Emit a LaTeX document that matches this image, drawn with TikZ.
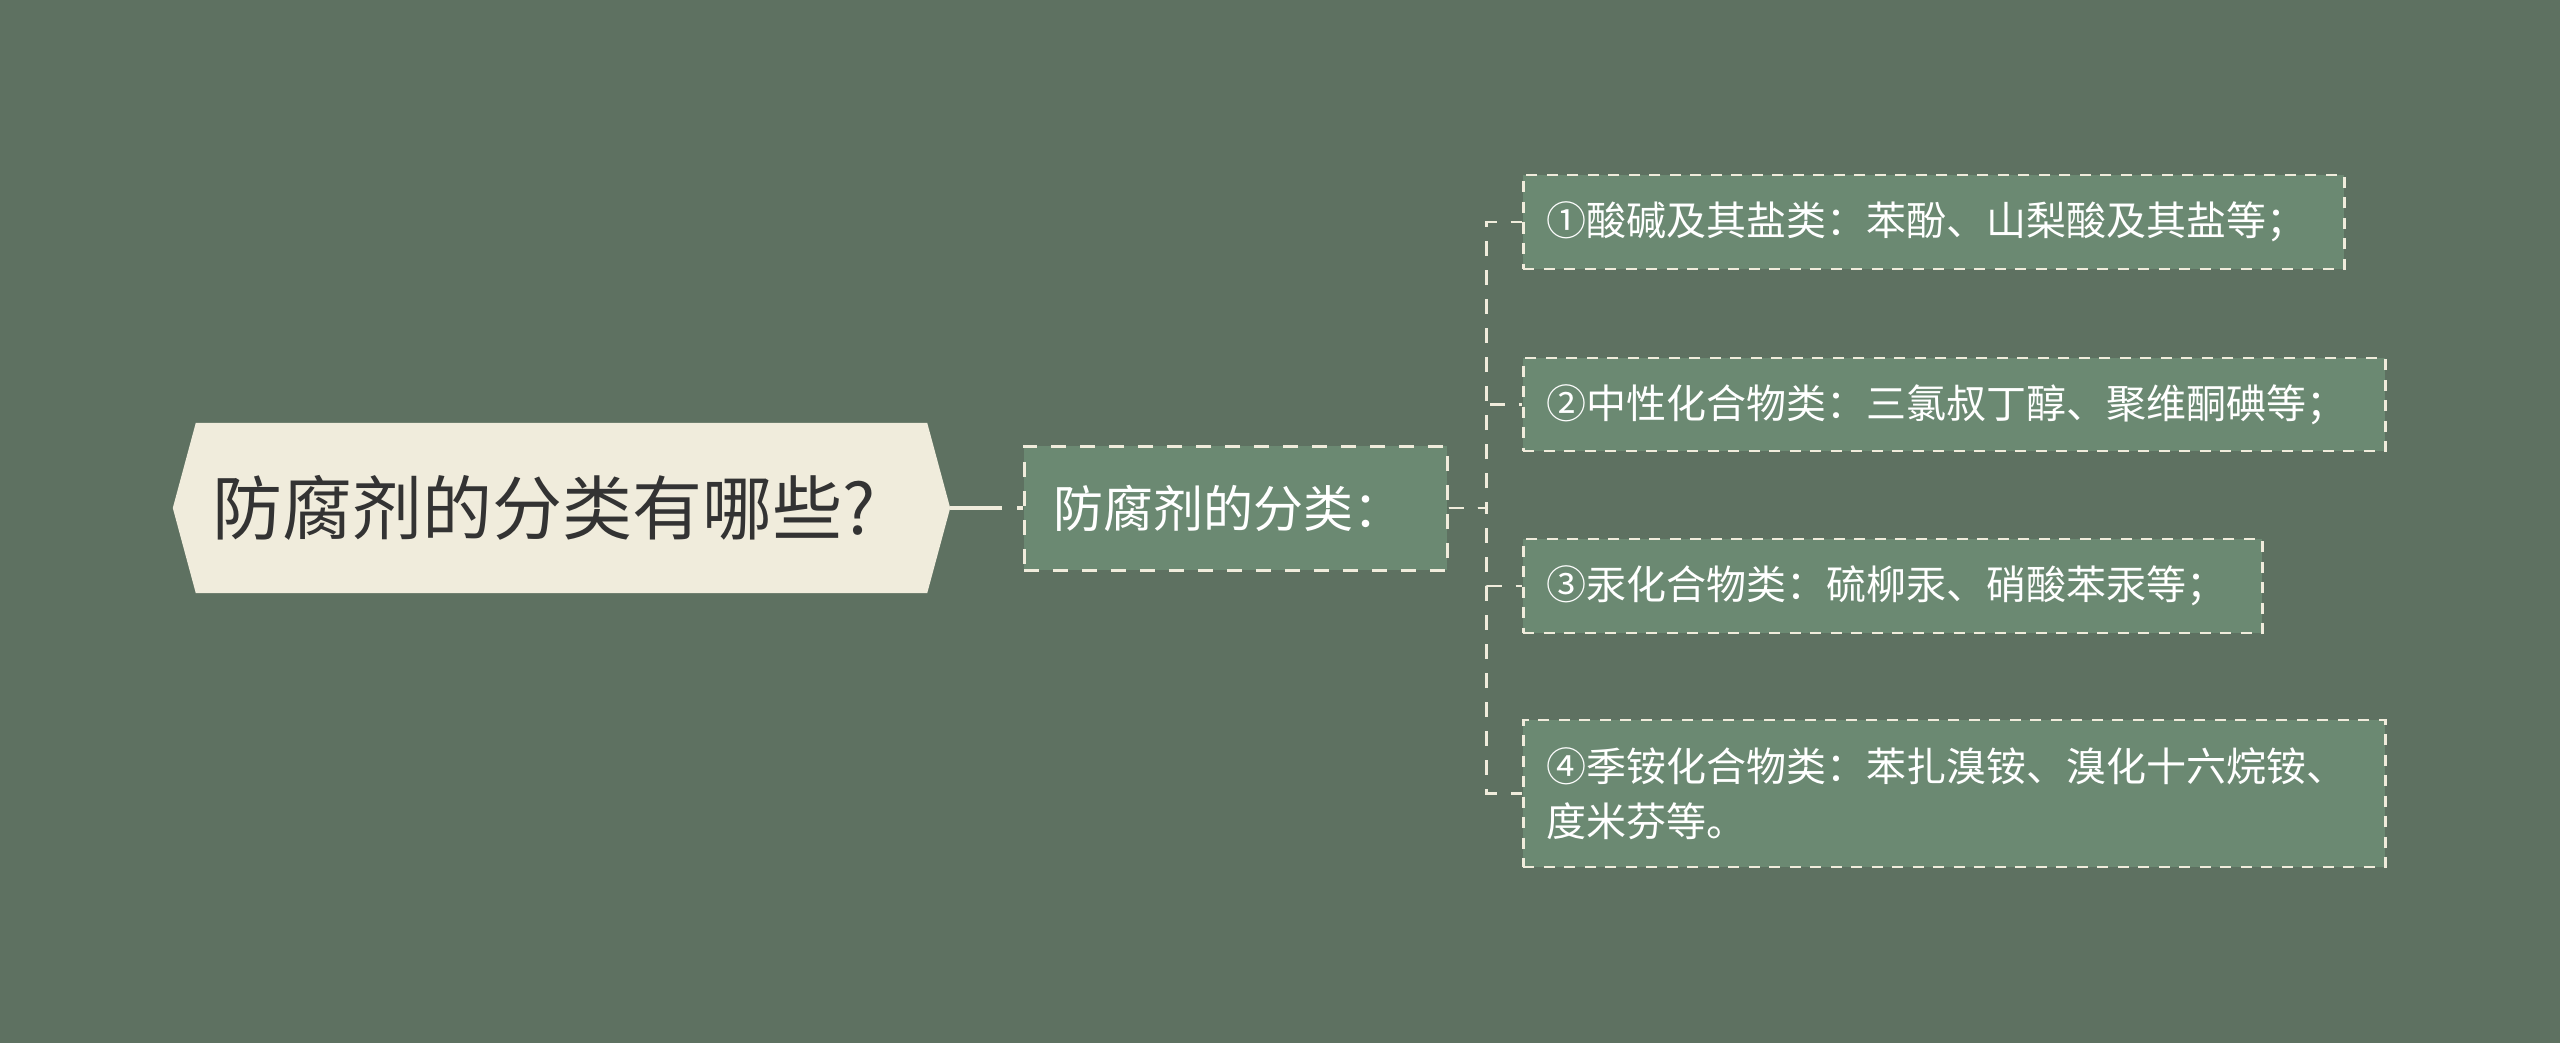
\documentclass[tikz,border=0pt]{standalone}
\usepackage{fontspec}
\setmainfont{Noto Sans CJK SC}
\usetikzlibrary{calc,backgrounds}
\definecolor{bgc}{RGB}{94,113,97}
\definecolor{nodefill}{RGB}{107,137,114}
\definecolor{creamc}{RGB}{240,236,220}
\definecolor{roottext}{RGB}{51,51,51}
\tikzset{
  rootbox/.style={minimum width=777, minimum height=170, inner xsep=39, inner ysep=0,
    text width=699, align=left, text=roottext, font=\fontsize{70}{80}\selectfont},
  midbox/.style={draw=creamc, fill=nodefill, line width=3, dash pattern=on 15pt off 14pt,
    minimum width=423, minimum height=124, inner xsep=29, inner ysep=0, text width=365,
    align=left, text=white, font=\fontsize{50}{60}\selectfont},
  leafbox/.style={draw=creamc, fill=nodefill, line width=2.5, dash pattern=on 11pt off 9.5pt,
    anchor=west, inner xsep=23, inner ysep=0, align=left, text=white,
    font=\fontsize{40}{55}\selectfont},
  rootconn/.style={draw=creamc, line width=4, dash pattern=on 52pt off 15pt},
  conn/.style={draw=creamc, line width=2.5, dash pattern=on 15pt off 14pt},
}
\begin{document}
\begin{tikzpicture}[x=1pt,y=-1pt]
\useasboundingbox (0,0) rectangle (2560,1043);
\node[rootbox] (root) at (561.5,508) {防腐剂的分类有哪些?};
\begin{pgfonlayer}{background}
\fill[bgc] (0,0) rectangle (2560,1043);
\fill[creamc] ($(root.north west)+(23,0)$) -- ($(root.north east)-(23,0)$) -- (root.east)
  -- ($(root.south east)-(23,0)$) -- ($(root.south west)+(23,0)$) -- (root.west) -- cycle;
\end{pgfonlayer}
\node[midbox] (mid) at (1235.5,508) {防腐剂的分类：};
\node[leafbox, text width=775, minimum height=94] (c1) at (1522,222) {①酸碱及其盐类：苯酚、山梨酸及其盐等；};
\node[leafbox, text width=816, minimum height=93] (c2) at (1522,404.5) {②中性化合物类：三氯叔丁醇、聚维酮碘等；};
\node[leafbox, text width=693, minimum height=94] (c3) at (1522,586) {③汞化合物类：硫柳汞、硝酸苯汞等；};
\node[leafbox, text width=816, minimum height=147] (c4) at (1522,793.5) {④季铵化合物类：苯扎溴铵、溴化十六烷铵、\\度米芬等。};
\draw[rootconn] (root.east) -- (mid.west);
\draw[conn] (mid.east) -- ++(38,0) |- (c1.west);
\draw[conn] (mid.east) -- ++(38,0) |- (c2.west);
\draw[conn] (mid.east) -- ++(38,0) |- (c3.west);
\draw[conn] (mid.east) -- ++(38,0) |- (c4.west);
\end{tikzpicture}
\end{document}
